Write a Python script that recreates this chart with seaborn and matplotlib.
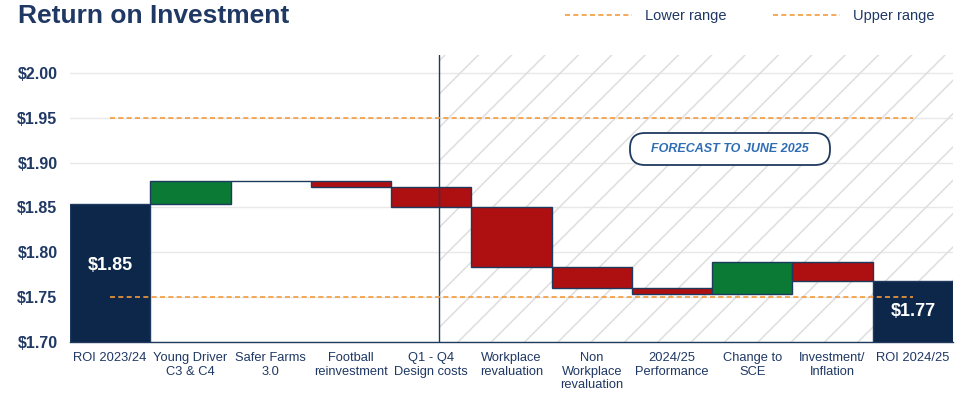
import numpy as np
import pandas as pd
import matplotlib
matplotlib.use("Agg")
import matplotlib.pyplot as plt
import seaborn as sns
from matplotlib.lines import Line2D
from matplotlib.patches import FancyBboxPatch

# ---- data ----
categories = ["ROI 2023/24", "Young Driver\nC3 & C4", "Safer Farms\n3.0", "Football\nreinvestment",
              "Q1 - Q4\nDesign costs", "Workplace\nrevaluation", "Non\nWorkplace\nrevaluation",
              "2024/25\nPerformance", "Change to\nSCE", "Investment/\nInflation", "ROI 2024/25"]
start_value = 1.854
changes = [0.026, 0.0, -0.007, -0.023, -0.066, -0.024, -0.007, 0.036, -0.021]
start_label = "$1.85"
end_label = "$1.77"
lower_range = 1.75
upper_range = 1.95
yticks = [1.70, 1.75, 1.80, 1.85, 1.90, 1.95, 2.00]
forecast_text = "FORECAST TO JUNE 2025"

NAVY = "#0C2749"
GREEN = "#0B7A35"
RED = "#AE0F10"
EDGE = "#1F3A5F"
TXT = "#1F3864"
ORANGE = "#F39A3C"

# waterfall geometry from data
levels = np.concatenate([[start_value], start_value + np.cumsum(changes)])
end_value = levels[-1]
bottoms = [0.0] + list(levels[:-1]) + [0.0]
heights = [start_value] + changes + [end_value]
colors = [NAVY] + [GREEN if c > 0 else (RED if c < 0 else "white") for c in changes] + [NAVY]
df = pd.DataFrame({"cat": categories, "h": heights})

sns.set_theme(style="white")
plt.rcParams["font.family"] = ["Liberation Sans", "DejaVu Sans"]
plt.rcParams["hatch.linewidth"] = 1.1

fig = plt.figure(figsize=(9.68, 3.98), dpi=100)
ax = fig.add_axes([70/968, 1-342/398, 883/968, (342-55)/398])

sns.barplot(data=df, x="cat", y="h", order=categories, bottom=bottoms, width=1.0,
            color=NAVY, edgecolor=EDGE, linewidth=1.0, ax=ax, zorder=3, errorbar=None)
for p, c in zip(ax.patches, colors):
    p.set_facecolor(c)

ax.set_xlim(-0.5, len(categories) - 0.5)
ax.set_ylim(1.70, 2.02)
ax.set_yticks(yticks)
ax.set_yticklabels([f"${v:.2f}" for v in yticks])
ax.set_xlabel("")
ax.set_ylabel("")
for y in yticks:
    ax.axhline(y, color="#e8e8e8", lw=1.0, zorder=0)

# forecast hatched region
split = 4.1
ax.axvspan(split, len(categories) - 0.5, facecolor="none", hatch="/", edgecolor="#dedede",
           lw=0, zorder=1)
ax.axvline(split, color=EDGE, lw=1.0, zorder=4)

# range lines
for v in (lower_range, upper_range):
    ax.hlines(v, 0, len(categories) - 1, colors=ORANGE, lw=1.2, linestyles=(0, (3, 2)), zorder=5)

for s in ("top", "right", "left"):
    ax.spines[s].set_visible(False)
ax.spines["bottom"].set_color(EDGE)
ax.spines["bottom"].set_linewidth(1.0)
ax.spines["bottom"].set_zorder(6)
ax.tick_params(axis="x", length=0, pad=7, labelsize=9.3, labelcolor=TXT)
ax.tick_params(axis="y", length=0, pad=9, labelsize=11.5, labelcolor=TXT)
for t in ax.get_yticklabels():
    t.set_fontweight("bold")

# total labels
ax.text(0, (1.70 + start_value) / 2 + 0.008, start_label, ha="center", va="center",
        color="white", fontsize=13, fontweight="bold", zorder=7)
ax.text(len(categories) - 1, (1.70 + end_value) / 2, end_label, ha="center", va="center",
        color="white", fontsize=13, fontweight="bold", zorder=7)

# forecast badge
box = FancyBboxPatch((630/968, 1-165/398), 200/968, 32/398,
                     boxstyle="round,pad=0,rounding_size=%f" % (15/968),
                     mutation_aspect=968/398, transform=fig.transFigure,
                     facecolor="white", edgecolor=EDGE, lw=1.3, zorder=5)
fig.add_artist(box)
fig.text(730/968, 1-149/398, forecast_text, ha="center", va="center", fontsize=9,
         fontweight="bold", fontstyle="italic", color="#2E6DB4", zorder=6)

# title
fig.text(18/968, 1-16/398, "Return on Investment", ha="left", va="center", fontsize=19,
         fontweight="bold", color=TXT)

# legend
handles = [Line2D([0], [0], color=ORANGE, lw=1.2, linestyle=(0, (3, 2))),
           Line2D([0], [0], color=ORANGE, lw=1.2, linestyle=(0, (3, 2)))]
fig.legend(handles, ["Lower range", "Upper range"], loc="center right",
           bbox_to_anchor=(948/968, 1-16/398), ncol=2, frameon=False, fontsize=10.5,
           handlelength=4.6, handletextpad=0.9, columnspacing=3.2, labelcolor=TXT)

fig.savefig("out.png", dpi=100, facecolor="white")
